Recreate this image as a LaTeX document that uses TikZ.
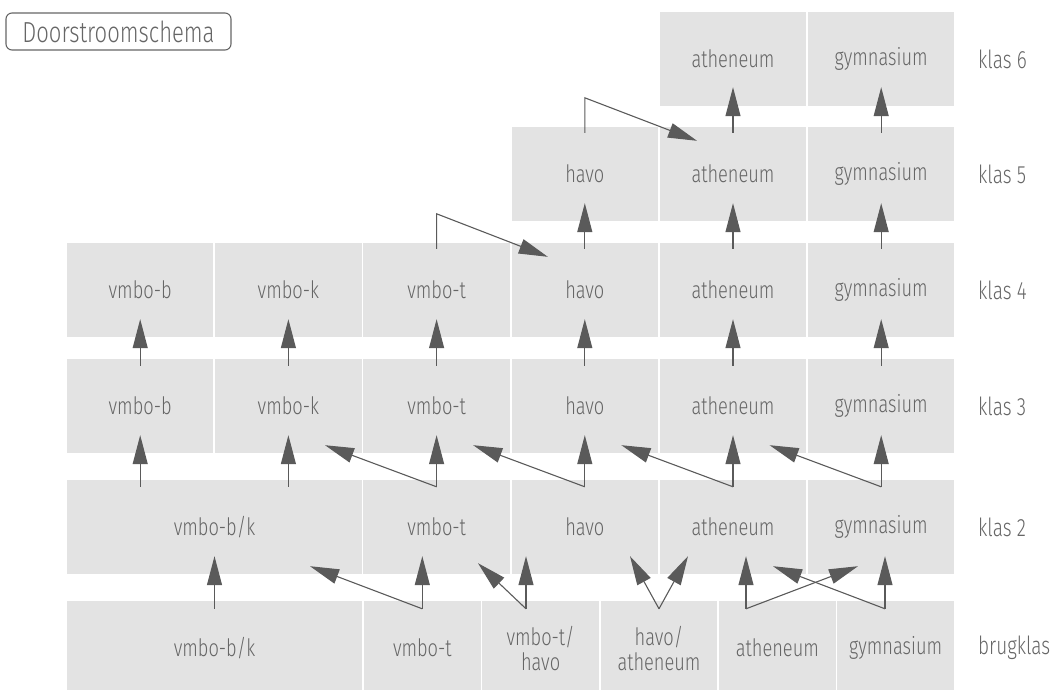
\documentclass[tikz,border=0pt]{standalone}
\usepackage{fontspec}
\setmainfont{Fira Sans Light}[FakeStretch=0.76]
\usetikzlibrary{arrows.meta}
\definecolor{cellgray}{HTML}{E3E3E3}
\definecolor{txtgray}{HTML}{666666}
\definecolor{arrgray}{HTML}{5A5A5A}
\begin{document}
\begin{tikzpicture}[x=1pt,y=-1pt,
    cell/.style={fill=cellgray,inner sep=0pt,minimum width=146.4pt,minimum height=94pt,
      text=txtgray,align=center,font=\fontsize{24}{25}\selectfont},
    wide/.style={cell,minimum width=295pt},
    narrow/.style={cell,minimum width=116.6pt},
    klas/.style={anchor=west,inner sep=0pt,text=txtgray,font=\fontsize{25}{26}\selectfont},
    arr/.style={draw=arrgray,line width=1.1pt,-{Triangle[length=29pt,width=15pt,fill=arrgray]}}]
    \useasboundingbox (0,0) rectangle (1058,690);
    \node[draw=txtgray,line width=1.1pt,rounded corners=6pt,minimum width=225pt,minimum height=37pt,
      inner sep=0pt,text=txtgray,font=\fontsize{29}{30}\selectfont] at (118.5,31.5) (title) {Doorstroomschema};
    \node[cell] at (733,59) (k6ath) {atheneum};
    \node[cell] at (881.2,59) (k6gym) {gymnasium};
    \node[cell] at (584.8,174) (k5hav) {havo};
    \node[cell] at (733,174) (k5ath) {atheneum};
    \node[cell] at (881.2,174) (k5gym) {gymnasium};
    \node[cell] at (140.2,290) (k4b) {vmbo-b};
    \node[cell] at (288.4,290) (k4k) {vmbo-k};
    \node[cell] at (436.6,290) (k4t) {vmbo-t};
    \node[cell] at (584.8,290) (k4hav) {havo};
    \node[cell] at (733,290) (k4ath) {atheneum};
    \node[cell] at (881.2,290) (k4gym) {gymnasium};
    \node[cell] at (140.2,406) (k3b) {vmbo-b};
    \node[cell] at (288.4,406) (k3k) {vmbo-k};
    \node[cell] at (436.6,406) (k3t) {vmbo-t};
    \node[cell] at (584.8,406) (k3hav) {havo};
    \node[cell] at (733,406) (k3ath) {atheneum};
    \node[cell] at (881.2,406) (k3gym) {gymnasium};
    \node[wide] at (214.5,527) (k2bk) {vmbo-b/k};
    \node[cell] at (436.6,527) (k2t) {vmbo-t};
    \node[cell] at (584.8,527) (k2hav) {havo};
    \node[cell] at (733,527) (k2ath) {atheneum};
    \node[cell] at (881.2,527) (k2gym) {gymnasium};
    \node[wide] at (214.5,648) (bkbk) {vmbo-b/k};
    \node[narrow] at (422.3,648) (bkt) {vmbo-t};
    \node[narrow] at (540.6,648) (bkth) {vmbo-t/\\havo};
    \node[narrow] at (659,648) (bkha) {havo/\\atheneum};
    \node[narrow] at (777.4,648) (bkath) {atheneum};
    \node[narrow] at (895.7,648) (bkgym) {gymnasium};
    \node[klas] at (978,59) (l6) {klas 6};
    \node[klas] at (978,174) (l5) {klas 5};
    \node[klas] at (978,290) (l4) {klas 4};
    \node[klas] at (978,406) (l3) {klas 3};
    \node[klas] at (978,527) (l2) {klas 2};
    \node[klas] at (978,648) (lb) {brugklas};
    \draw[arr] ([yshift=-6pt]k5ath.north) -- ([yshift=19pt]k6ath.south);
    \draw[arr] ([yshift=-6pt]k5gym.north) -- ([yshift=19pt]k6gym.south);
    \draw[arr] ([yshift=-6pt]k5hav.north) -- ++(0,-35) -- ([xshift=-36pt,yshift=-14pt]k5ath.north);
    \draw[arr] ([yshift=-6pt]k4hav.north) -- ([yshift=18pt]k5hav.south);
    \draw[arr] ([yshift=-6pt]k4ath.north) -- ([yshift=18pt]k5ath.south);
    \draw[arr] ([yshift=-6pt]k4gym.north) -- ([yshift=18pt]k5gym.south);
    \draw[arr] ([yshift=-6pt]k4t.north) -- ++(0,-35) -- ([xshift=-37pt,yshift=-14pt]k4hav.north);
    \draw[arr] ([yshift=-7pt]k3b.north) -- ([yshift=18pt]k4b.south);
    \draw[arr] ([yshift=-7pt]k3k.north) -- ([yshift=18pt]k4k.south);
    \draw[arr] ([yshift=-7pt]k3t.north) -- ([yshift=18pt]k4t.south);
    \draw[arr] ([yshift=-7pt]k3hav.north) -- ([yshift=18pt]k4hav.south);
    \draw[arr] ([yshift=-7pt]k3ath.north) -- ([yshift=18pt]k4ath.south);
    \draw[arr] ([yshift=-7pt]k3gym.north) -- ([yshift=18pt]k4gym.south);
    \draw[arr] ([xshift=-74.3pt,yshift=-7pt]k2bk.north) -- ([yshift=18pt]k3b.south);
    \draw[arr] ([xshift=73.9pt,yshift=-7pt]k2bk.north) -- ([yshift=18pt]k3k.south);
    \draw[arr] ([yshift=-7pt]k2t.north) -- ([yshift=18pt]k3t.south);
    \draw[arr] ([yshift=-7pt]k2t.north) -- ([xshift=36.6pt,yshift=8pt]k3k.south);
    \draw[arr] ([yshift=-7pt]k2hav.north) -- ([yshift=18pt]k3hav.south);
    \draw[arr] ([yshift=-7pt]k2hav.north) -- ([xshift=36.6pt,yshift=8pt]k3t.south);
    \draw[arr] ([yshift=-7pt]k2ath.north) -- ([yshift=18pt]k3ath.south);
    \draw[arr] ([yshift=-7pt]k2ath.north) -- ([xshift=36.6pt,yshift=8pt]k3hav.south);
    \draw[arr] ([yshift=-7pt]k2gym.north) -- ([yshift=18pt]k3gym.south);
    \draw[arr] ([yshift=-7pt]k2gym.north) -- ([xshift=36.6pt,yshift=8pt]k3ath.south);
    \draw[arr] ([yshift=-8pt]bkbk.north) -- ([yshift=18pt]k2bk.south);
    \draw[arr] ([yshift=-8pt]bkt.north) -- ([xshift=-14.3pt,yshift=18pt]k2t.south);
    \draw[arr] ([yshift=-8pt]bkt.north) -- ([xshift=95.5pt,yshift=8pt]k2bk.south);
    \draw[arr] ([xshift=-14.6pt,yshift=-8pt]bkth.north) -- ([xshift=-58.8pt,yshift=18pt]k2hav.south);
    \draw[arr] ([xshift=-14.6pt,yshift=-8pt]bkth.north) -- ([xshift=41.4pt,yshift=11pt]k2t.south);
    \draw[arr] ([yshift=-8pt]bkha.north) -- ([xshift=45.2pt,yshift=18pt]k2hav.south);
    \draw[arr] ([yshift=-8pt]bkha.north) -- ([xshift=-45pt,yshift=18pt]k2ath.south);
    \draw[arr] ([xshift=-31.4pt,yshift=-8pt]bkath.north) -- ([xshift=13pt,yshift=18pt]k2ath.south);
    \draw[arr] ([xshift=-31.4pt,yshift=-8pt]bkath.north) -- ([xshift=-23.2pt,yshift=8pt]k2gym.south);
    \draw[arr] ([xshift=-10.7pt,yshift=-8pt]bkgym.north) -- ([xshift=3.8pt,yshift=18pt]k2gym.south);
    \draw[arr] ([xshift=-10.7pt,yshift=-8pt]bkgym.north) -- ([xshift=40pt,yshift=8pt]k2ath.south);
\end{tikzpicture}
\end{document}
